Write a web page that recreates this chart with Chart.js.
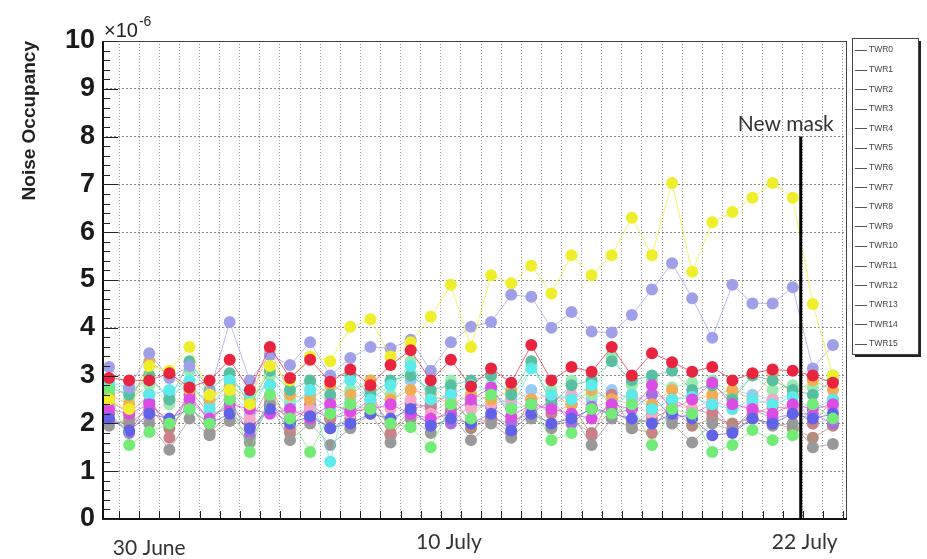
<!DOCTYPE html>
<html>
<head>
<meta charset="utf-8">
<script src="https://cdn.jsdelivr.net/npm/chart.js@4.4.0/dist/chart.umd.min.js"></script>
<style>
  html, body { margin: 0; padding: 0; background: #ffffff; }
  #wrap { width: 927px; height: 559px; position: relative; }
</style>
</head>
<body>
<div id="wrap"><canvas id="occ" width="927" height="559"></canvas></div>
<script>
// Noise occupancy per tower, one value per run (units of 1e-6)
const towerNames = ['TWR0','TWR1','TWR2','TWR3','TWR4','TWR5','TWR6','TWR7',
                    'TWR8','TWR9','TWR10','TWR11','TWR12','TWR13','TWR14','TWR15'];
const runIndex = [0,1,2,3,4,5,6,7,8,9,10,11,12,13,14,15,16,17,18,19,20,
                  21,22,23,24,25,26,27,28,29,30,31,32,33,34,35,36];

const twr0  = [2.95,2.9,2.9,3.05,2.75,2.9,3.33,2.7,3.6,2.95,3.33,2.87,3.13,2.8,3.22,3.53,2.9,3.33,2.77,3.15,2.85,3.64,2.9,3.18,3.08,3.6,3.0,3.47,3.28,3.08,3.18,2.9,3.05,3.13,3.1,3.0,2.85];
const twr1  = [2.7,1.55,1.82,2.0,2.3,2.0,2.5,1.4,2.6,2.1,1.4,2.2,2.4,2.3,2.0,1.92,1.5,2.4,2.1,2.6,2.3,2.4,1.65,1.8,2.3,2.2,2.4,1.55,2.3,2.2,1.4,1.55,1.86,1.65,1.75,2.4,2.1];
const twr2  = [2.1,1.85,2.2,2.1,2.3,2.0,2.2,1.9,2.3,2.0,2.15,1.9,2.0,2.2,2.1,2.3,1.95,2.1,2.0,2.2,1.85,2.2,2.0,2.1,2.3,2.2,2.1,2.0,2.2,2.1,1.75,1.8,2.1,2.0,2.2,2.1,2.2];
const twr3  = [2.5,2.3,3.2,3.1,3.6,2.6,2.7,2.4,3.2,2.9,3.4,3.3,4.02,4.18,3.4,3.7,4.23,4.9,3.6,5.1,4.93,5.3,4.72,5.52,5.1,5.52,6.3,5.52,7.03,5.17,6.21,6.42,6.72,7.03,6.72,4.5,3.0];
const twr4  = [2.3,2.2,2.4,2.05,2.5,2.1,2.4,2.3,2.2,2.3,2.1,2.4,2.25,2.3,2.4,2.2,2.1,2.2,2.5,2.75,2.15,2.4,2.3,2.2,2.1,2.4,2.3,2.8,2.3,2.5,2.85,2.4,2.3,2.2,2.4,2.3,2.4];
const twr5  = [2.85,2.75,2.6,2.7,2.9,2.3,2.9,2.6,2.8,2.3,2.7,1.2,2.9,2.5,2.8,3.2,2.5,2.6,2.8,2.7,2.3,3.15,2.6,2.5,2.8,2.4,2.6,2.3,2.5,2.55,2.4,2.3,2.5,2.4,2.55,2.3,2.5];
const twr6  = [2.75,2.6,3.0,2.5,3.3,2.7,3.05,2.4,3.1,2.7,2.9,2.6,3.0,2.6,2.9,3.0,2.7,2.8,2.9,3.0,2.6,3.3,2.4,2.8,2.9,3.3,2.9,3.0,3.1,2.7,2.8,2.5,3.0,2.9,2.7,2.6,2.9];
const twr7  = [1.95,2.1,2.0,1.45,2.1,1.75,2.05,1.6,2.4,1.65,2.0,1.55,1.9,2.2,1.6,2.1,1.8,2.2,1.65,2.0,1.7,2.1,1.9,2.2,1.55,2.1,1.9,2.3,2.0,1.6,2.0,1.85,2.1,1.95,2.0,1.5,1.57];
const twr8  = [3.18,2.75,3.47,2.95,3.2,2.65,4.12,2.9,3.43,3.22,3.7,3.0,3.37,3.6,3.57,3.75,3.1,3.7,4.02,4.12,4.69,4.65,4.0,4.33,3.92,3.9,4.27,4.8,5.35,4.62,3.79,4.9,4.51,4.51,4.85,3.15,3.64];
const twr9  = [2.6,2.4,3.3,3.0,2.7,2.5,2.8,2.5,3.55,2.6,2.5,2.8,2.6,2.9,2.5,2.7,2.6,2.4,2.6,2.5,2.7,2.5,2.6,2.4,2.7,2.5,2.6,2.4,2.7,2.5,2.6,2.7,2.5,3.05,2.6,2.9,2.7];
const twr10 = [2.4,2.3,2.1,2.5,2.4,2.2,2.6,2.1,2.5,2.2,2.3,2.5,2.2,2.4,2.3,2.5,2.2,2.5,2.3,2.4,2.5,2.3,2.4,2.6,2.3,2.5,2.4,2.2,2.4,2.3,2.5,2.3,2.4,2.5,2.3,2.4,2.3];
const twr11 = [2.5,2.2,2.6,1.7,2.7,2.2,2.3,2.0,2.8,1.9,2.4,2.1,2.3,2.7,1.8,2.3,2.4,2.6,2.0,2.1,1.8,2.5,2.2,2.4,1.75,2.6,1.9,1.8,2.5,2.3,2.2,1.9,2.2,2.35,2.3,2.0,2.5];
const twr12 = [2.9,2.5,2.8,2.4,3.1,2.5,2.9,2.3,3.0,2.5,2.85,2.4,2.7,2.9,2.6,3.3,2.5,2.9,2.6,2.8,2.5,3.2,2.7,2.9,2.6,3.4,2.8,2.9,2.75,2.85,2.9,2.6,3.0,2.7,2.8,2.75,3.0];
const twr13 = [2.2,1.8,2.45,2.0,2.6,2.05,2.5,1.75,2.4,2.1,2.3,2.1,2.2,2.5,2.0,2.4,2.35,2.0,2.4,2.35,2.05,2.2,2.5,2.0,2.35,2.2,2.3,2.6,2.1,2.2,2.4,1.85,2.3,2.1,2.2,2.2,2.0];
const twr14 = [2.6,2.7,2.9,2.6,2.8,2.4,2.7,2.2,3.0,2.4,2.6,2.3,2.5,2.7,2.4,2.9,2.3,2.7,2.4,2.6,2.4,2.7,2.5,2.6,2.5,2.7,2.5,2.6,2.5,2.6,2.3,2.7,2.6,2.5,2.6,2.0,2.1];
const twr15 = [2.05,2.0,2.3,1.9,2.4,1.8,2.2,1.7,2.5,1.8,2.2,1.9,2.1,2.4,1.75,2.2,2.0,2.3,1.9,2.1,2.0,2.3,1.95,2.05,1.8,2.3,2.0,2.1,2.3,1.95,2.1,2.0,2.1,2.0,1.9,1.7,1.95];

const towerValues = [twr0,twr1,twr2,twr3,twr4,twr5,twr6,twr7,twr8,twr9,twr10,twr11,twr12,twr13,twr14,twr15];
const towerColors = ['#e8243f','#72ec76','#6262e8','#eeee2a','#dc4ce4','#5ceaea','#58c0a0','#999999',
                     '#a0a0e8','#f2ac52','#f6a8c6','#cc8088','#98ecb0','#aa6ce0','#96ccf4','#b48a7a'];
// draw priority: smaller is painted later (on top)
const towerOrder  = [1,5,6,2,7,8,9,10,3,11,12,13,14,15,16,17];

const yTicks = [0,1,2,3,4,5,6,7,8,9,10];
const dateLabels = ['30 June','10 July','22 July'];
const dateLabelRuns = [2.0, 16.9, 34.6];
const maskRun = 34.4;     // run where the new mask was applied
const maskTop = 8.0;
const maskLabel = 'New mask';

function hexA(hex, a) {
  const n = parseInt(hex.slice(1), 16);
  return `rgba(${(n>>16)&255},${(n>>8)&255},${n&255},${a})`;
}

const datasets = towerNames.map((name, k) => ({
  label: name,
  data: runIndex.map((r, i) => ({ x: r, y: towerValues[k][i] })),
  borderColor: hexA(towerColors[k], 0.7),
  borderWidth: 1,
  backgroundColor: towerColors[k],
  pointBackgroundColor: towerColors[k],
  pointBorderWidth: 0,
  pointRadius: 6,
  pointHoverRadius: 6,
  tension: 0,
  order: towerOrder[k]
}));

const decor = {
  id: 'decor',
  afterDraw(chart) {
    const { ctx, chartArea: a, scales: { x, y } } = chart;
    ctx.save();

    // frame
    ctx.strokeStyle = '#444';
    ctx.lineWidth = 1;
    ctx.strokeRect(a.left + 0.5, a.top + 0.5, a.right - a.left - 1, a.bottom - a.top);
    ctx.strokeStyle = '#111';
    ctx.lineWidth = 2;
    ctx.beginPath();
    ctx.moveTo(a.left + 1, a.top);
    ctx.lineTo(a.left + 1, a.bottom);
    ctx.lineTo(a.right, a.bottom);
    ctx.stroke();

    // y ticks (major every 1, minor every 0.2), drawn inward
    ctx.lineWidth = 1;
    ctx.strokeStyle = '#222';
    for (let k = 0; k <= 50; k++) {
      const py = Math.round(y.getPixelForValue(k / 5)) + 0.5;
      const len = (k % 5 === 0) ? 16 : 8;
      ctx.beginPath();
      ctx.moveTo(a.left, py);
      ctx.lineTo(a.left + len, py);
      ctx.stroke();
    }
    // x ticks, drawn inward
    x.ticks.forEach(t => {
      const px = Math.round(x.getPixelForValue(t.value)) + 0.5;
      ctx.beginPath();
      ctx.moveTo(px, a.bottom);
      ctx.lineTo(px, a.bottom - 8);
      ctx.stroke();
    });

    // exponent
    ctx.fillStyle = '#222';
    ctx.textBaseline = 'alphabetic';
    ctx.textAlign = 'left';
    ctx.font = '20px "Liberation Sans", Arial, sans-serif';
    ctx.fillText('\u00d710', a.left + 2, a.top - 4);
    const w = ctx.measureText('\u00d710').width;
    ctx.font = '14px "Liberation Sans", Arial, sans-serif';
    ctx.fillText('-6', a.left + 2 + w + 1, a.top - 15);

    // y axis title, aligned to the top end of the axis
    ctx.save();
    ctx.translate(30, a.top);
    ctx.rotate(-Math.PI / 2);
    ctx.font = 'bold 19px "Liberation Sans", Arial, sans-serif';
    ctx.textAlign = 'right';
    ctx.textBaseline = 'middle';
    ctx.fillStyle = '#222';
    ctx.fillText('Noise Occupancy', 0, 0);
    ctx.restore();

    // mask marker
    const mx = x.getPixelForValue(maskRun);
    ctx.strokeStyle = '#000';
    ctx.lineWidth = 3;
    ctx.beginPath();
    ctx.moveTo(mx, y.getPixelForValue(maskTop));
    ctx.lineTo(mx, a.bottom);
    ctx.stroke();
    ctx.font = '21px Lato, "Open Sans", sans-serif';
    ctx.fillStyle = '#333';
    ctx.textAlign = 'center';
    ctx.textBaseline = 'alphabetic';
    ctx.fillText(maskLabel, mx - 15, y.getPixelForValue(maskTop) - 6);

    // date annotations below the axis
    dateLabels.forEach((txt, i) => {
      const px = x.getPixelForValue(dateLabelRuns[i]);
      const base = i === 0 ? a.bottom + 36 : a.bottom + 30;
      ctx.fillText(txt, px, base);
    });

    // legend box
    const lx = 852, ly = 38, lw = 66, lh = 316;
    ctx.fillStyle = '#222';
    ctx.fillRect(lx + 3, ly + 3, lw, lh);
    ctx.fillStyle = '#fff';
    ctx.fillRect(lx, ly, lw, lh);
    ctx.strokeStyle = '#444';
    ctx.lineWidth = 1;
    ctx.strokeRect(lx + 0.5, ly + 0.5, lw, lh);
    ctx.font = '8.5px "Liberation Sans", Arial, sans-serif';
    ctx.textAlign = 'left';
    ctx.textBaseline = 'middle';
    chart.data.datasets.forEach((ds, k) => {
      const ey = ly + 12 + k * 19.6;
      ctx.strokeStyle = '#555';
      ctx.beginPath();
      ctx.moveTo(lx + 3, Math.round(ey) + 0.5);
      ctx.lineTo(lx + 15, Math.round(ey) + 0.5);
      ctx.stroke();
      ctx.fillStyle = '#444';
      ctx.fillText(ds.label, lx + 17, ey);
    });

    ctx.restore();
  }
};

new Chart(document.getElementById('occ'), {
  type: 'line',
  data: { datasets },
  options: {
    responsive: false,
    animation: false,
    events: [],
    layout: { padding: { left: 0, top: 41, right: 80, bottom: 40 } },
    plugins: { legend: { display: false }, tooltip: { enabled: false } },
    scales: {
      x: {
        type: 'linear',
        min: -0.35,
        max: 36.7,
        afterBuildTicks(scale) {
          scale.ticks = runIndex.map(r => ({ value: r + 0.5 }));
        },
        afterFit(scale) { scale.height = 0; },
        ticks: { display: false },
        grid: { color: '#9a9a9a', lineWidth: 1, drawTicks: false },
        border: { display: false, dash: [1, 2] }
      },
      y: {
        type: 'linear',
        min: 0,
        max: 10,
        afterBuildTicks(scale) {
          scale.ticks = yTicks.map(v => ({ value: v }));
        },
        afterFit(scale) { scale.width = 102; },
        ticks: {
          padding: 7,
          color: '#1a1a1a',
          font: { family: '"Liberation Sans", Arial, sans-serif', size: 27, weight: 'bold' },
          callback: v => String(v)
        },
        grid: { color: '#8a8a8a', lineWidth: 1, drawTicks: false },
        border: { display: false, dash: [2, 2] }
      }
    }
  },
  plugins: [decor]
});
</script>
</body>
</html>
